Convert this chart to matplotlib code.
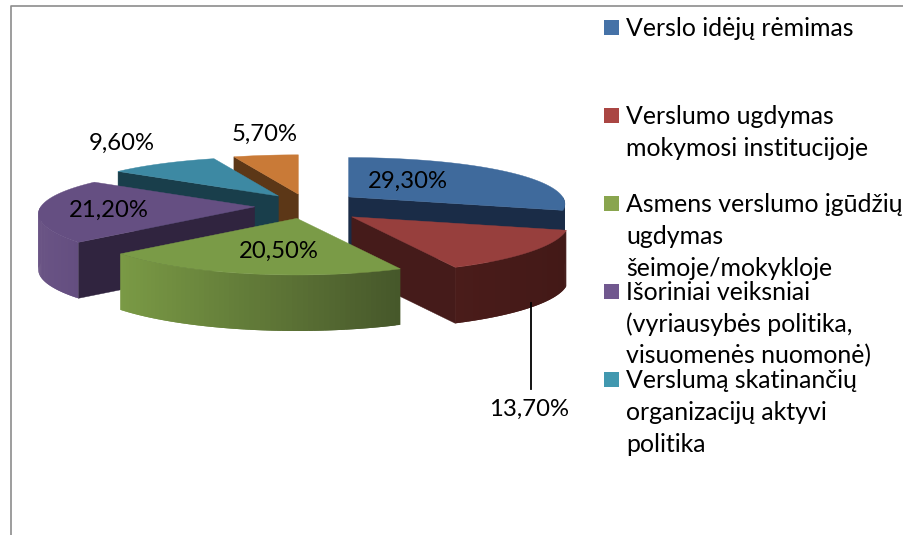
import numpy as np
import matplotlib
matplotlib.use("Agg")
import matplotlib.pyplot as plt
from matplotlib.colors import to_rgb

# --- Data ---
values = [29.3, 13.7, 20.5, 21.2, 9.6, 5.7]
legend_labels = [
    ["Verslo idėjų rėmimas"],
    ["Verslumo ugdymas", "mokymosi institucijoje"],
    ["Asmens verslumo įgūdžių", "ugdymas", "šeimoje/mokykloje"],
    ["Išoriniai veiksniai", "(vyriausybės politika,", "visuomenės nuomonė)"],
    ["Verslumą skatinančių", "organizacijų aktyvi", "politika"],
]

# --- Style ---
top_colors = ["#3F6A9C", "#973F3D", "#7A9B47", "#654F82", "#3D89A3", "#C97A37"]
wall_colors = ["#1A2C47", "#451B1A", "#46572A", "#30243F", "#193E4B", "#5C3717"]
outer_left = ["#1A2C47", "#4A1C1A", "#7A9A45", "#6A5485", "#193E4B", "#5C3717"]
outer_right = ["#1A2C47", "#431917", "#46572A", "#644E80", "#193E4B", "#5C3717"]
legend_colors = ["#4572A7", "#AA4643", "#89A54E", "#71588F", "#4198AF"]
explode = [0.25, 0.28, 0.21, 0.24, 0.21, 0.20]
label_xy = [(408, 181), (529, 409), (279, 251), (109, 210), (122, 143), (265, 134)]
draw_order = [5, 4, 3, 0, 1, 2]
FONT = "Lato"
FS_LABEL = 17.2
FS_LEGEND = 17.9

# pie geometry, in pixels of the figure
cx, cy = 306, 206
R, r = 214, 48
k, k_r = 0.15, 0.18
ex_x, ex_y = 214, 60
depth = 56


def project(theta, apex):
    near = -np.cos(theta)
    return (apex[0] + R * np.sin(theta) * (1 + k * near),
            apex[1] + r * near * (1 + k_r * near))


fig = plt.figure(figsize=(9.04, 5.35), dpi=100)
ax = fig.add_axes([0, 0, 1, 1])
ax.set_xlim(0, 904)
ax.set_ylim(535, 0)
ax.axis("off")

# chart border
ax.plot([11, 11, 904], [535, 6, 6], color="#8C8C8C", lw=1.2)

edges = np.radians(np.concatenate([[0], np.cumsum(values) / np.sum(values) * 360]))

for i in draw_order:
    t1, t2 = edges[i], edges[i + 1]
    mid = (t1 + t2) / 2
    apex = (cx + explode[i] * ex_x * np.sin(mid), cy - explode[i] * ex_y * np.cos(mid))

    # radial walls that face the viewer
    for t, visible in [(t1, np.sin(t1) < -1e-6), (t2, np.sin(t2) > 1e-6)]:
        if visible:
            x, y = project(t, apex)
            ax.fill([apex[0], x, x, apex[0]], [apex[1], y, y + depth, apex[1] + depth],
                    color=wall_colors[i], lw=0.3)

    # outer wall, shaded in thin strips that overlap to hide the seams
    lo, hi = max(t1, np.pi / 2), min(t2, 3 * np.pi / 2)
    if hi > lo:
        steps = np.linspace(lo, hi, 60)
        px, py = project(steps, apex)
        c_left, c_right = np.array(to_rgb(outer_left[i])), np.array(to_rgb(outer_right[i]))
        span = max(px.max() - px.min(), 1)
        for j in range(len(steps) - 1):
            e = min(j + 2, len(steps) - 1)
            f = ((px[j] + px[j + 1]) / 2 - px.min()) / span
            col = c_left + (c_right - c_left) * f
            ax.fill([px[j], px[e], px[e], px[j]],
                    [py[j], py[e], py[e] + depth, py[j] + depth],
                    color=col, lw=0)

    # top face
    arc = np.linspace(t1, t2, 80)
    px, py = project(arc, apex)
    ax.fill(np.r_[apex[0], px], np.r_[apex[1], py], color=top_colors[i], lw=0.3)

# leader line for the red slice
ax.plot([531, 531], [303, 389], color="black", lw=1.3)

# data labels
for v, (x, y) in zip(values, label_xy):
    ax.text(x, y, f"{v:.2f}".replace(".", ",") + "%", ha="center", va="center",
            family=FONT, fontsize=FS_LABEL, color="black")

# legend
for i, lines in enumerate(legend_labels):
    top = 20 + 88 * i
    ax.fill([604, 619, 619, 604], [top, top, top + 14.5, top + 14.5], color=legend_colors[i], lw=0)
    for j, line in enumerate(lines):
        ax.text(626, top + 9 + 31.5 * j, line, ha="left", va="center",
                family=FONT, fontsize=FS_LEGEND, color="black")

fig.savefig("out.png", dpi=100)
